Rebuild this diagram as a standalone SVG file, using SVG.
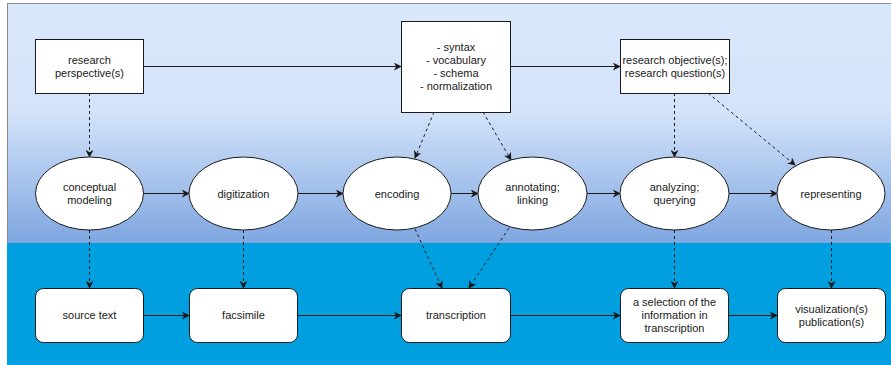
<svg xmlns="http://www.w3.org/2000/svg" width="891" height="365" viewBox="0 0 891 365">
<style>
text{font-family:"Liberation Sans",Arial,sans-serif;font-size:11px;fill:#1a1a1a;text-anchor:middle}
.n{fill:#fff;stroke:#1a1a1a;stroke-width:1}
.c{fill:none;stroke:#1a1a1a;stroke-width:1}
.d{stroke-dasharray:3 3}
</style>
<defs>
<linearGradient id="g" x1="0" y1="0" x2="0" y2="1">
<stop offset="0" stop-color="#dae8fc"/>
<stop offset="0.45" stop-color="#d4e3fa"/>
<stop offset="1" stop-color="#7ea6e0"/>
</linearGradient>
<marker id="a" viewBox="0 0 10 10" refX="9" refY="5" markerWidth="8" markerHeight="8" markerUnits="userSpaceOnUse" orient="auto">
<path d="M0,0 L10,5 L0,10 L3,5 Z" fill="#1a1a1a"/>
</marker>
</defs>
<g id="background">
<rect x="7.5" y="3.5" width="890" height="240" fill="url(#g)" stroke="#8a8a8a"/>
<rect x="7" y="243" width="884" height="122" fill="#009fe0"/>
</g>
<g id="connectors">
<path class="c" d="M143,66.5 H401" marker-end="url(#a)"/>
<path class="c" d="M510,66.5 H620" marker-end="url(#a)"/>
<path class="c d" d="M89.5,93 V157" marker-end="url(#a)"/>
<path class="c d" d="M434,112 L415,158" marker-end="url(#a)"/>
<path class="c d" d="M483,112 L511,160" marker-end="url(#a)"/>
<path class="c d" d="M674.5,93 V157" marker-end="url(#a)"/>
<path class="c d" d="M708,93 L795,165" marker-end="url(#a)"/>
<path class="c" d="M143,193.5 H189" marker-end="url(#a)"/>
<path class="c" d="M298,193.5 H343" marker-end="url(#a)"/>
<path class="c" d="M451,193.5 H478" marker-end="url(#a)"/>
<path class="c" d="M587,193.5 H620" marker-end="url(#a)"/>
<path class="c" d="M729,193.5 H777" marker-end="url(#a)"/>
<path class="c d" d="M89.5,230 V288" marker-end="url(#a)"/>
<path class="c d" d="M243.5,230 V288" marker-end="url(#a)"/>
<path class="c d" d="M415,229 L442,288" marker-end="url(#a)"/>
<path class="c d" d="M509,228 L469,288" marker-end="url(#a)"/>
<path class="c d" d="M674.5,230 V288" marker-end="url(#a)"/>
<path class="c d" d="M831.5,230 V288" marker-end="url(#a)"/>
<path class="c" d="M143,315.5 H189" marker-end="url(#a)"/>
<path class="c" d="M297,315.5 H401" marker-end="url(#a)"/>
<path class="c" d="M510,315.5 H620" marker-end="url(#a)"/>
<path class="c" d="M728,315.5 H777" marker-end="url(#a)"/>
</g>
<g id="research-perspective">
<rect class="n" x="35.5" y="39.5" width="108" height="54"/>
<text x="89.5" y="64">research</text>
<text x="89.5" y="77">perspective(s)</text>
</g>
<g id="syntax-box">
<rect class="n" x="401.5" y="21.5" width="109" height="91"/>
<text x="456" y="50.5">- syntax</text>
<text x="456" y="63.5">- vocabulary</text>
<text x="456" y="76.5">- schema</text>
<text x="456" y="89.5">- normalization</text>
</g>
<g id="research-objective">
<rect class="n" x="620.5" y="39.5" width="109" height="54"/>
<text x="675" y="64">research objective(s);</text>
<text x="675" y="77">research question(s)</text>
</g>
<g id="conceptual-modeling">
<ellipse class="n" cx="89.5" cy="193.5" rx="54" ry="36.5"/>
<text x="89.5" y="191">conceptual</text>
<text x="89.5" y="204">modeling</text>
</g>
<g id="digitization">
<ellipse class="n" cx="243.5" cy="193.5" rx="54.5" ry="36.5"/>
<text x="243.5" y="197.5">digitization</text>
</g>
<g id="encoding">
<ellipse class="n" cx="397" cy="193.5" rx="54" ry="36.5"/>
<text x="397" y="197.5">encoding</text>
</g>
<g id="annotating-linking">
<ellipse class="n" cx="532.5" cy="193.5" rx="54.5" ry="36.5"/>
<text x="532.5" y="191">annotating;</text>
<text x="532.5" y="204">linking</text>
</g>
<g id="analyzing-querying">
<ellipse class="n" cx="674.5" cy="193.5" rx="54.5" ry="36.5"/>
<text x="674.5" y="191">analyzing;</text>
<text x="674.5" y="204">querying</text>
</g>
<g id="representing">
<ellipse class="n" cx="831" cy="193.5" rx="54" ry="36.5"/>
<text x="831" y="197.5">representing</text>
</g>
<g id="source-text">
<rect class="n" x="35.5" y="288.5" width="108" height="54" rx="8"/>
<text x="89.5" y="319">source text</text>
</g>
<g id="facsimile">
<rect class="n" x="189.5" y="288.5" width="108" height="54" rx="8"/>
<text x="243.5" y="319">facsimile</text>
</g>
<g id="transcription">
<rect class="n" x="401.5" y="288.5" width="109" height="54" rx="8"/>
<text x="456" y="319">transcription</text>
</g>
<g id="selection">
<rect class="n" x="620.5" y="288.5" width="108" height="54" rx="8"/>
<text x="674.5" y="306">a selection of the</text>
<text x="674.5" y="319">information in</text>
<text x="674.5" y="332">transcription</text>
</g>
<g id="visualization">
<rect class="n" x="777.5" y="288.5" width="108" height="54" rx="8"/>
<text x="831.5" y="312.5">visualization(s)</text>
<text x="831.5" y="325.5">publication(s)</text>
</g>
</svg>
